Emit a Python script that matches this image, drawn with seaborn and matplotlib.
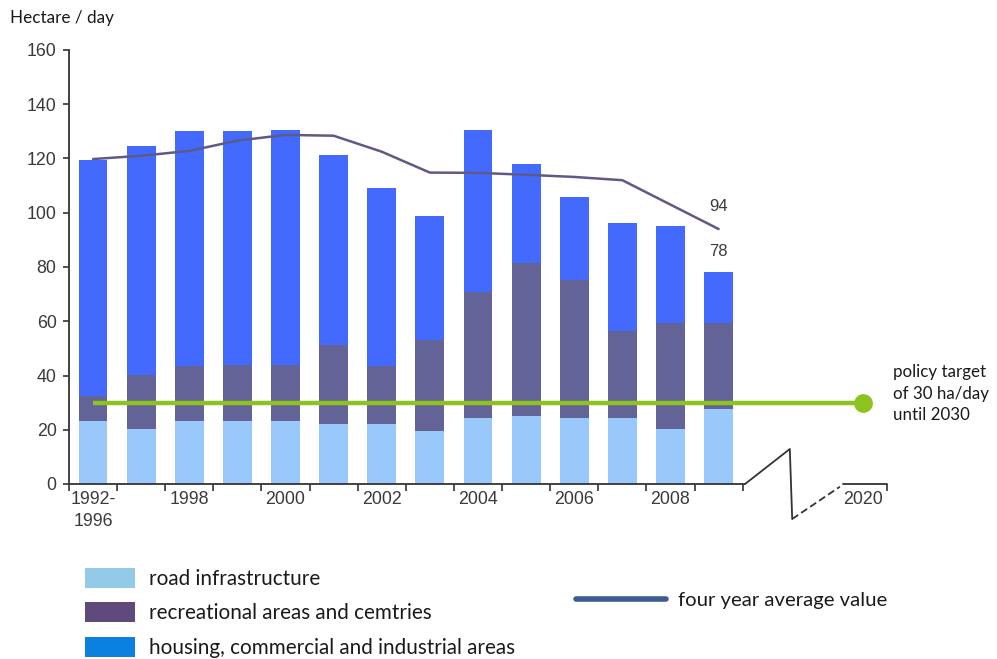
import numpy as np
import pandas as pd
import matplotlib
matplotlib.use("Agg")
import matplotlib.pyplot as plt
from matplotlib.patches import Patch
from matplotlib.lines import Line2D
import seaborn as sns

# ---- data (hectare per day) ----
periods = ["1992-\n1996", "1997", "1998", "1999", "2000", "2001", "2002",
           "2003", "2004", "2005", "2006", "2007", "2008", "2009"]
road = [23.2, 20.3, 23.1, 23.1, 23.1, 22.1, 22.1, 19.7, 24.2, 25.2, 24.2, 24.2, 20.3, 27.5]
recreation = [9.4, 19.9, 20.4, 20.9, 20.9, 29.1, 21.4, 33.3, 46.5, 56.4, 51.0, 32.2, 38.9, 31.7]
housing = [86.9, 84.5, 86.5, 86.0, 86.6, 70.1, 65.6, 45.8, 59.8, 36.3, 30.7, 39.9, 36.0, 18.8]
four_year_avg = [119.8, 121.0, 122.8, 126.6, 128.7, 128.4, 122.5, 114.8, 114.7, 114.0,
                 113.2, 112.0, 103.0, 94.0]
target_value = 30
target_year = "2020"
tick_years = ["1992-\n1996", "1998", "2000", "2002", "2004", "2006", "2008"]

# ---- colours ----
C_ROAD = "#99c9fa"
C_REC = "#636397"
C_HOUSE = "#436afc"
C_AVG = "#5d5b86"
C_TARGET = "#8cc31e"
L_ROAD = "#93cae8"
L_REC = "#5f4a7b"
L_HOUSE = "#0a80e0"
L_AVG = "#3c5c92"
TXT = "#3a3a3a"
SANS2 = ["Lato", "DejaVu Sans"]

sns.set_theme(style="white")
plt.rcParams["font.family"] = ["Liberation Sans", "DejaVu Sans"]

n = len(periods)
pos = np.arange(n)
road_a = np.array(road)
rec_top = road_a + np.array(recreation)
total = rec_top + np.array(housing)
df = pd.DataFrame({"pos": pos, "road": road_a, "rec_top": rec_top, "total": total,
                   "avg": four_year_avg})

fig = plt.figure(figsize=(9.97, 6.59), dpi=100)
ax = fig.add_axes([69 / 997, 1 - 484 / 659, (887 - 69) / 997, (484 - 50) / 659])

# stacked bars: draw cumulative heights from the top layer down
for col, c in (("total", C_HOUSE), ("rec_top", C_REC), ("road", C_ROAD)):
    sns.barplot(data=df, x="pos", y=col, native_scale=True, width=0.6, color=c,
                saturation=1, errorbar=None, edgecolor="none", linewidth=0, ax=ax)

# four year average
sns.lineplot(data=df, x="pos", y="avg", color=C_AVG, linewidth=1.8, ax=ax)

# policy target line up to the target year
target_pos = n + 2
ax.plot([0, target_pos], [target_value, target_value], color=C_TARGET, lw=3.2,
        solid_capstyle="butt", zorder=5)
ax.plot([target_pos], [target_value], "o", color=C_TARGET, ms=12.5, zorder=6,
        clip_on=False)
ax.annotate("policy target\nof 30 ha/day\nuntil 2030", xy=(target_pos, target_value),
            xytext=(22, 6.5), textcoords="offset points", va="center", ha="left",
            fontsize=12.2, family=SANS2, color="#1a1a1a",
            linespacing=1.45, annotation_clip=False)

# value labels on the last period
ax.annotate(f"{four_year_avg[-1]:.0f}", xy=(pos[-1], four_year_avg[-1]),
            xytext=(0, 11), textcoords="offset points", ha="center", va="bottom",
            fontsize=12, color=TXT)
ax.annotate(f"{total[-1]:.0f}", xy=(pos[-1], total[-1]),
            xytext=(0, 10), textcoords="offset points", ha="center", va="bottom",
            fontsize=12, color=TXT)

# axes
ax.set_xlim(-0.5, target_pos + 0.5)
ax.set_ylim(0, 160)
ax.set_xlabel("")
ax.set_ylabel("")
for s in ("top", "right", "bottom"):
    ax.spines[s].set_visible(False)
ax.spines["left"].set_color("#333333")
ax.spines["left"].set_linewidth(1.3)
ax.set_yticks(np.arange(0, 161, 20))
ax.tick_params(axis="y", which="major", left=True, length=4, width=1.2, color="#333333",
               labelsize=12.8, labelcolor=TXT, pad=5)

major_pos = [periods.index(t) for t in tick_years] + [target_pos]
ax.set_xticks(major_pos)
ax.set_xticklabels(tick_years + [target_year])
ax.set_xticks(list(np.arange(-0.5, n, 1.0)) + [target_pos + 0.5], minor=True)
ax.tick_params(axis="x", which="major", bottom=True, length=0, labelsize=12.8,
               labelcolor=TXT, pad=5)
ax.tick_params(axis="x", which="minor", bottom=True, length=5, width=1.2, color="#333333")
for lbl in ax.get_xticklabels():
    lbl.set_linespacing(1.4)

# x axis line with a break before the target year
axis_kw = dict(color="#333333", lw=1.3, clip_on=False, zorder=4)
ax.plot([-0.5, n - 0.45], [0, 0], **axis_kw)
ax.plot([n - 0.45, n + 0.48, n + 0.53], [0, 12.9, -12.9], **axis_kw)
ax.plot([n + 0.53, n + 1.52], [-12.9, -1.0], ls=(0, (4, 2)), **axis_kw)
ax.plot([n + 1.59, target_pos + 0.5], [0, 0], **axis_kw)

# title
fig.text(10 / 997, 1 - 18 / 659, "Hectare / day", fontsize=12.3, va="center", ha="left",
         family=SANS2, color="#1a1a1a")

# legends
area_handles = [Patch(facecolor=L_ROAD, edgecolor="none"),
                Patch(facecolor=L_REC, edgecolor="none"),
                Patch(facecolor=L_HOUSE, edgecolor="none")]
area_labels = ["road infrastructure", "recreational areas and cemtries",
               "housing, commercial and industrial areas"]
leg1 = fig.legend(area_handles, area_labels, loc="upper left",
                  bbox_to_anchor=(77 / 997, 1 - 560 / 659), frameon=False,
                  prop={"family": SANS2, "size": 14.9},
                  handlelength=2.4, handleheight=1.1, handletextpad=0.7,
                  labelspacing=0.64, borderaxespad=0)
for t in leg1.get_texts():
    t.set_color("#1a1a1a")
leg2 = fig.legend([Line2D([], [], color=L_AVG, lw=4)], ["four year average value"],
                  loc="center left", bbox_to_anchor=(568 / 997, 1 - 600 / 659),
                  frameon=False, prop={"family": SANS2, "size": 14.6},
                  handlelength=4.45, handletextpad=0.55, borderaxespad=0)
for t in leg2.get_texts():
    t.set_color("#1a1a1a")

fig.savefig("out.png", dpi=100)
